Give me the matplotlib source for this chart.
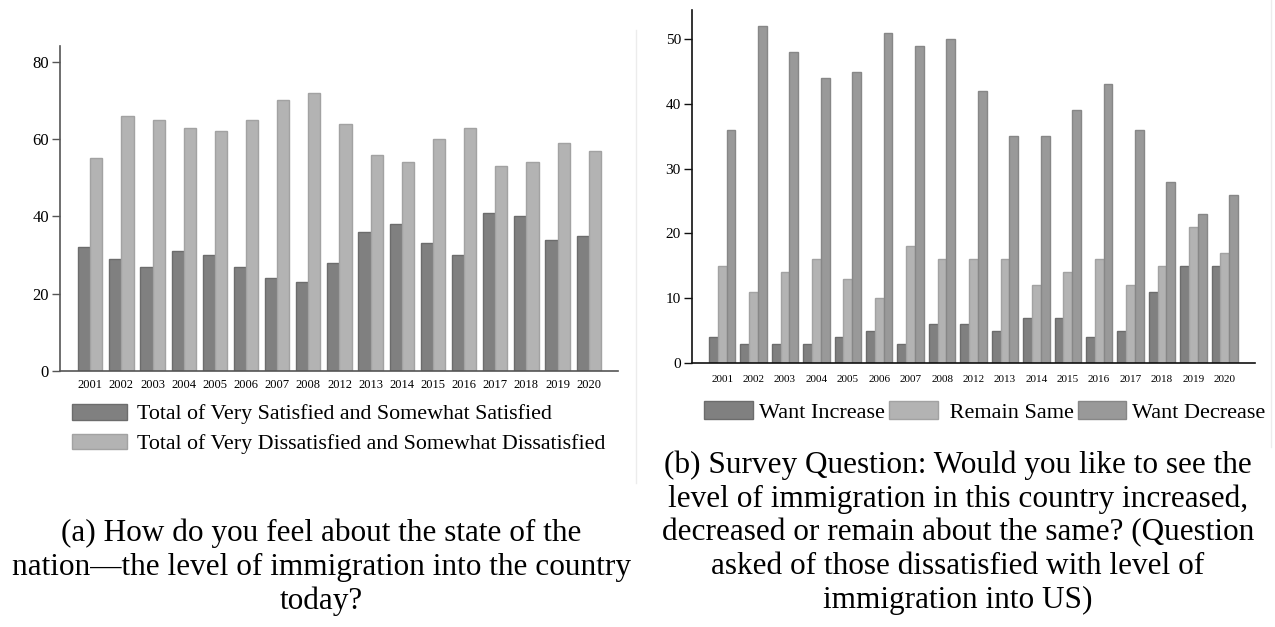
import numpy as np
import matplotlib
matplotlib.use('Agg')
import matplotlib.pyplot as plt
from matplotlib.lines import Line2D

plt.rcParams['font.family'] = ['Liberation Serif', 'DejaVu Serif']

years = ["2001", "2002", "2003", "2004", "2005", "2006", "2007", "2008", "2012",
         "2013", "2014", "2015", "2016", "2017", "2018", "2019", "2020"]

# panel (a): satisfaction with level of immigration (%)
satisfied = [32, 29, 27, 31, 30, 27, 24, 23, 28, 36, 38, 33, 30, 41, 40, 34, 35]
dissatisfied = [55, 66, 65, 63, 62, 65, 70, 72, 64, 56, 54, 60, 63, 53, 54, 59, 57]

# panel (b): preferred change among the dissatisfied (%)
want_increase = [4, 3, 3, 3, 4, 5, 3, 6, 6, 5, 7, 7, 4, 5, 11, 15, 15]
remain_same = [15, 11, 14, 16, 13, 10, 18, 16, 16, 16, 12, 14, 16, 12, 15, 21, 17]
want_decrease = [36, 52, 48, 44, 45, 51, 49, 50, 42, 35, 35, 39, 43, 36, 28, 23, 26]

legend_a = ["Total of Very Satisfied and Somewhat Satisfied",
            "Total of Very Dissatisfied and Somewhat Dissatisfied"]
legend_b = ["Want Increase", " Remain Same", "Want Decrease"]

caption_a = ("(a) How do you feel about the state of the\n"
             "nation\u2014the level of immigration into the country\n"
             "today?")
caption_b = ("(b) Survey Question: Would you like to see the\n"
             "level of immigration in this country increased,\n"
             "decreased or remain about the same? (Question\n"
             "asked of those dissatisfied with level of\n"
             "immigration into US)")

DARK = "#808080"
DARK_EDGE = "#6c6c6c"
LIGHT = "#b3b3b3"
LIGHT_EDGE = "#a2a2a2"
MID = "#999999"
MID_EDGE = "#878787"

W, H = 1275, 627
fig = plt.figure(figsize=(W / 100, H / 100), dpi=100)


def px_axes(left, top, right, bottom):
    return fig.add_axes([left / W, 1 - bottom / H, (right - left) / W, (bottom - top) / H])


def style_axes(ax, spine_color, xsize, ysize, xpad):
    for side in ("top", "right"):
        ax.spines[side].set_visible(False)
    for side in ("left", "bottom"):
        ax.spines[side].set_color(spine_color)
        ax.spines[side].set_linewidth(1.2)
    ax.tick_params(axis="x", length=0, labelsize=xsize, pad=xpad)
    ax.tick_params(axis="y", length=6, width=1, color=spine_color, labelsize=ysize, pad=2)


# faint frame lines between the two subfigures
fig.add_artist(Line2D([636 / W, 636 / W], [1 - 30 / H, 1 - 483 / H], color="#ececec", lw=1))
fig.add_artist(Line2D([1271 / W, 1271 / W], [1, 1 - 447 / H], color="#ececec", lw=1))

# ---- panel (a) ----
ax1 = px_axes(60, 46, 618, 371)
x = np.arange(len(years))
bw = 0.39
ax1.bar(x - bw / 2, satisfied, bw, color=DARK, edgecolor=DARK_EDGE, linewidth=1, label=legend_a[0])
ax1.bar(x + bw / 2, dissatisfied, bw, color=LIGHT, edgecolor=LIGHT_EDGE, linewidth=1, label=legend_a[1])
ax1.set_xticks(x)
ax1.set_xticklabels(years)
ax1.set_yticks([0, 20, 40, 60, 80])
ax1.set_xlim(-0.97, len(years) - 1 + 0.94)
ax1.set_ylim(0, 84.1)
style_axes(ax1, "#555555", 9, 12, 6)
ax1.legend(loc="upper left", bbox_to_anchor=(72 / W, 1 - 404 / H), bbox_transform=fig.transFigure,
           frameon=False, fontsize=15.8, handlelength=2.5, handleheight=0.72,
           handletextpad=0.45, labelspacing=0.42, borderpad=0, borderaxespad=0)

# ---- panel (b) ----
ax2 = px_axes(692, 10, 1255, 363)
bw2 = 0.28
ax2.bar(x - bw2, want_increase, bw2, color=DARK, edgecolor=DARK_EDGE, linewidth=1, label=legend_b[0])
ax2.bar(x, remain_same, bw2, color=LIGHT, edgecolor=LIGHT_EDGE, linewidth=1, label=legend_b[1])
ax2.bar(x + bw2, want_decrease, bw2, color=MID, edgecolor=MID_EDGE, linewidth=1, label=legend_b[2])
ax2.set_xticks(x)
ax2.set_xticklabels(years)
ax2.set_yticks([0, 10, 20, 30, 40, 50])
ax2.set_xlim(-0.96, len(years) - 1 + 0.96)
ax2.set_ylim(0, 54.5)
style_axes(ax2, "#111111", 8, 11, 9)
ax2.legend(loc="upper left", bbox_to_anchor=(704 / W, 1 - 401 / H), bbox_transform=fig.transFigure,
           ncol=3, frameon=False, fontsize=16, handlelength=2.2, handleheight=0.85,
           handletextpad=0.27, columnspacing=0.18, borderpad=0, borderaxespad=0)

# ---- captions ----
fig.text(321 / W, 1 - 519 / H, caption_a, ha="center", va="top", fontsize=22.5, linespacing=1.21)
fig.text(958 / W, 1 - 450 / H, caption_b, ha="center", va="top", fontsize=22.5, linespacing=1.21)

fig.savefig("out.png", dpi=100)
